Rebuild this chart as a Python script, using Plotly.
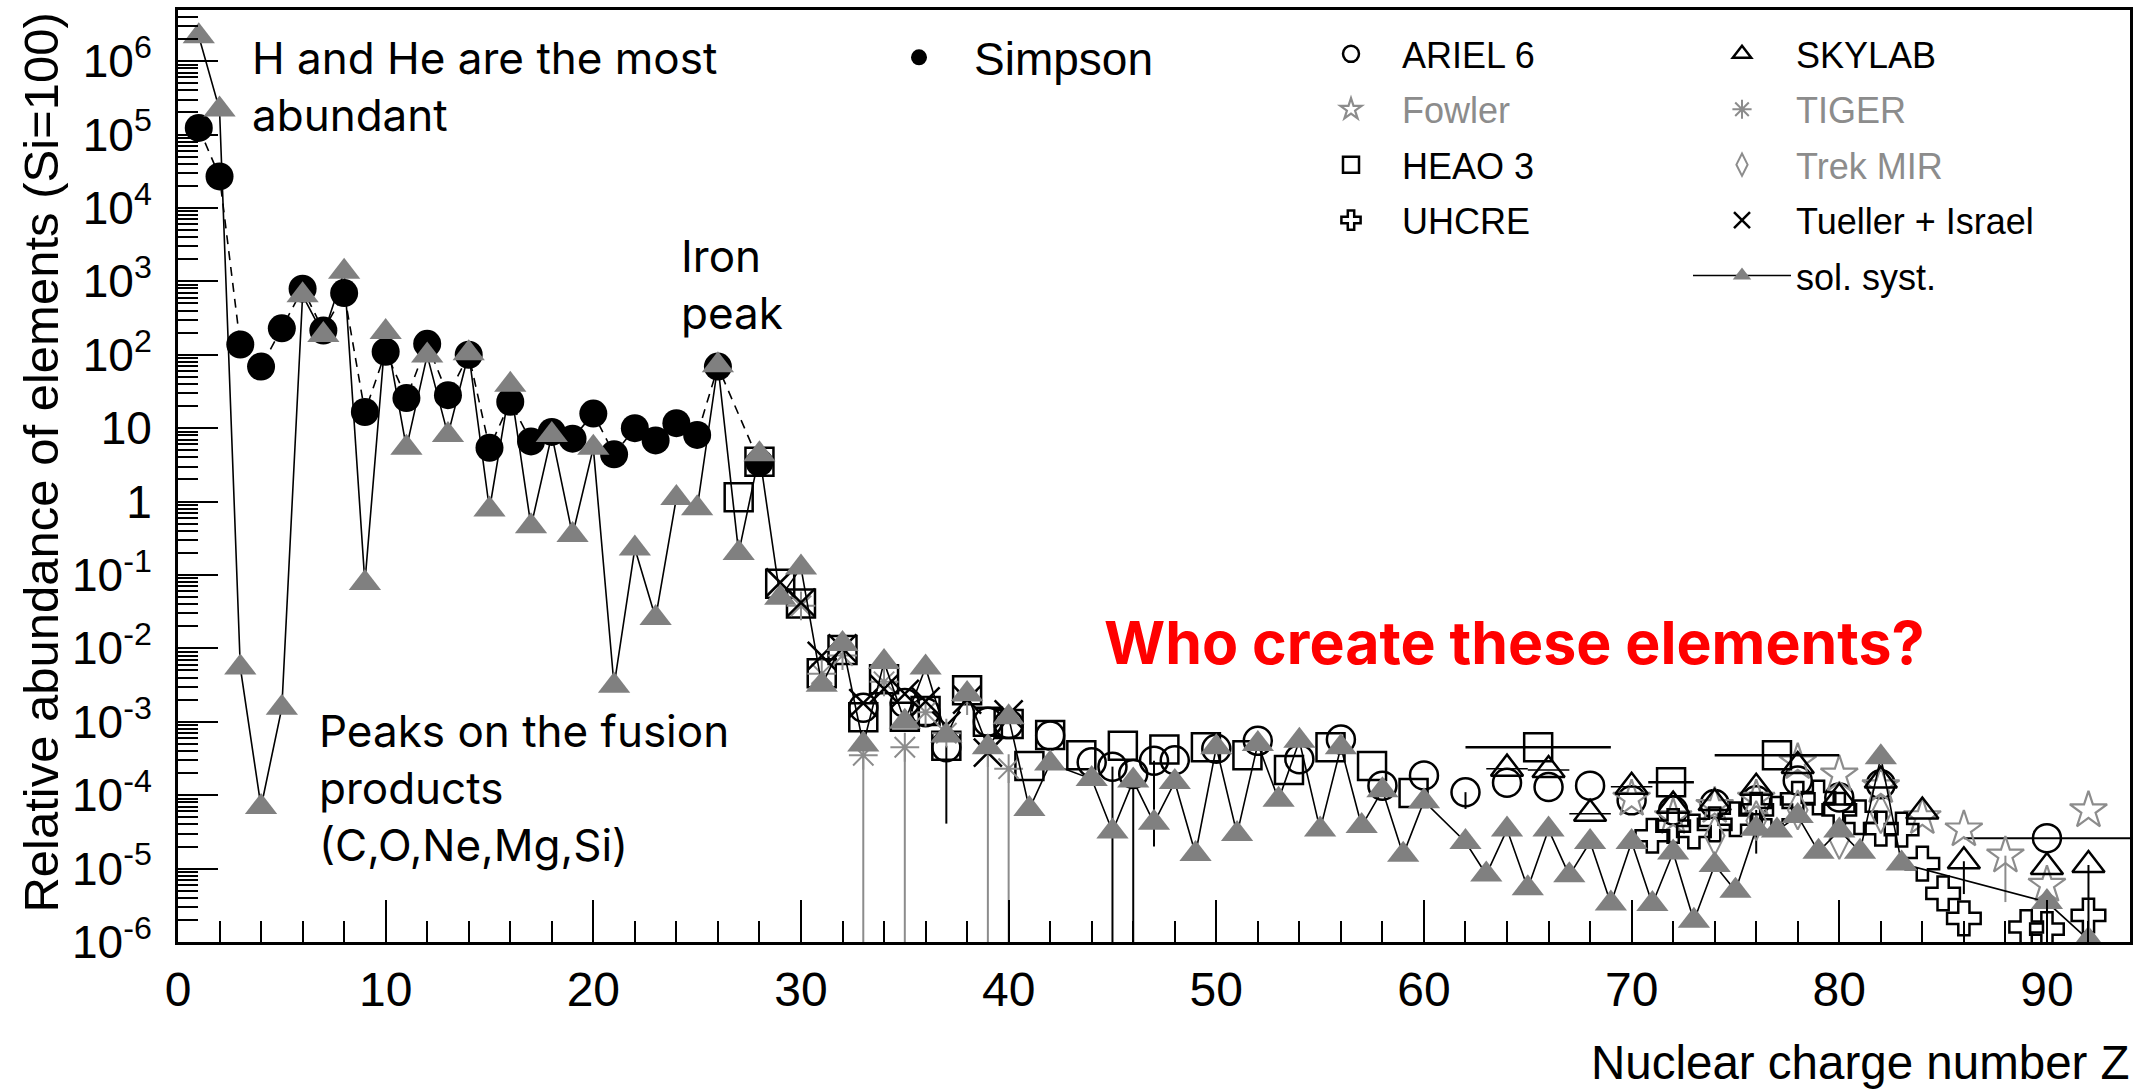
import plotly.graph_objects as go

# ---------------- data ----------------
simpson_z = [1, 2, 3, 4, 5, 6, 7, 8, 9, 10, 11, 12, 13, 14, 15, 16, 17, 18, 19, 20,
             21, 22, 23, 24, 25, 26, 28]
simpson_val = [1.23e5, 2.69e4, 138, 69, 229, 794, 214, 692, 16.6, 110, 25.7, 141, 28.2, 100,
               5.4, 22.9, 6.6, 8.9, 7.2, 15.8, 4.4, 10.0, 6.8, 11.7, 8.1, 69, 3.4]

solar_z = [1, 2, 3, 4, 5, 6, 7, 8, 9, 10, 11, 12, 13, 14, 15, 16, 17, 18, 19, 20,
           21, 22, 23, 24, 25, 26, 27, 28, 29, 30, 31, 32, 33, 34, 35, 36, 37, 38, 39, 40,
           41, 42, 44, 45, 46, 47, 48, 49, 50, 51, 52, 53, 54, 55, 56, 57, 58, 59, 60,
           62, 63, 64, 65, 66, 67, 68, 69, 70, 71, 72, 73, 74, 75, 76, 77, 78, 79, 80,
           81, 82, 83, 90, 92]
solar_val = [2.19e6, 2.19e5, 5.5e-3, 6.9e-5, 1.55e-3, 646, 186, 1349, 0.078, 204,
             5.4, 98, 8.1, 105, 0.78, 39, 0.46, 8.1, 0.35, 5.4,
             3.1e-3, 0.23, 0.026, 1.12, 0.81, 72, 0.20, 4.4, 0.049, 0.126,
             3.2e-3, 0.0115, 4.9e-4, 6.5e-3, 1.0e-3, 5.5e-3, 6.5e-4, 2.4e-3, 4.5e-4, 1.15e-3,
             6.5e-5, 2.7e-4, 1.66e-4, 3.2e-5, 1.58e-4, 4.2e-5, 1.51e-4, 1.58e-5, 4.5e-4, 2.95e-5,
             5.0e-4, 8.7e-5, 5.5e-4, 3.4e-5, 4.5e-4, 3.8e-5, 1.17e-4, 1.55e-5, 8.3e-5,
             2.3e-5, 8.3e-6, 3.4e-5, 5.4e-6, 3.4e-5, 8.1e-6, 2.3e-5, 3.35e-6, 2.3e-5, 3.3e-6,
             1.66e-5, 1.95e-6, 1.12e-5, 5.0e-6, 3.5e-5, 3.3e-5, 5.2e-5, 1.7e-5, 3.3e-5,
             1.7e-5, 3.3e-4, 1.17e-5, 3.5e-6, 1.07e-6]

heao_z = [27, 28, 29, 30, 31, 32, 33, 34, 35, 36, 37, 38, 39, 40, 41, 42,
          43.5, 45.5, 47.5, 49.5, 51.5, 53.5, 55.5, 57.5, 59.5, 65.5, 71.9, 77]
heao_val = [1.15, 3.5, 0.076, 0.041, 4.6e-3, 9.5e-3, 1.15e-3, 3.8e-3, 1.17e-3, 1.4e-3,
            4.7e-4, 2.7e-3, 1.0e-3, 9.3e-4, 2.5e-4, 6.6e-4,
            3.5e-4, 4.7e-4, 4.2e-4, 4.5e-4, 3.5e-4, 2.2e-4, 4.5e-4, 2.5e-4, 1.07e-4,
            4.5e-4, 1.5e-4, 3.5e-4]
heao_xerr = [0] * 25 + [3.5, 1.1, 3.0]
heao_low = [None] * 10 + [4.1e-5] + [None] * 17

ariel_z = [33, 35, 36, 37, 39, 40, 42, 44, 45, 46, 47, 48, 50, 52, 54, 56, 58, 60,
           62, 64, 66, 68, 70, 72, 74, 76, 78, 80, 82, 90]
ariel_val = [1.55e-3, 1.8e-3, 1.35e-3, 4.5e-4, 1.0e-3, 9.3e-4, 6.5e-4, 2.8e-4, 2.45e-4, 1.95e-4,
             2.95e-4, 3.0e-4, 4.3e-4, 5.5e-4, 3.1e-4, 5.75e-4, 1.35e-4, 1.86e-4,
             1.1e-4, 1.48e-4, 1.29e-4, 1.35e-4, 8.5e-5, 6.2e-5, 7.6e-5, 8.5e-5, 1.58e-4,
             9.3e-5, 1.41e-4, 2.6e-5]
ariel_xerr = [0] * 29 + [4.0]
ariel_low = [None] * 8 + [1e-7, 1e-7, 2.0e-5] + [None] * 7 + [6.5e-5] + [None] * 11

skylab_z = [64, 66, 68, 70, 72, 74, 76, 78, 80, 82, 84, 86, 90, 92]
skylab_val = [2.3e-4, 2.2e-4, 5.6e-5, 1.3e-4, 7.2e-5, 7.8e-5, 1.26e-4, 2.5e-4, 9.3e-5,
              1.58e-4, 6.0e-5, 1.26e-5, 1.05e-5, 1.12e-5]
skylab_xerr = [1, 1, 1, 1] + [0] * 10
skylab_low = [None] * 11 + [4.5e-6, None, 1e-7]

fowler_z = [70, 72, 74, 76, 78, 80, 82, 84, 86, 88, 90, 92]
fowler_val = [8.9e-5, 5.0e-5, 7.1e-5, 8.9e-5, 2.8e-4, 1.9e-4, 1.32e-4, 5.0e-5, 3.4e-5,
              1.5e-5, 6.0e-6, 6.2e-5]
fowler_low = [None] * 9 + [3.5e-6, None, None]

tiger_z = [30, 31, 32, 33, 34, 35, 36, 37, 38, 39, 40]
tiger_val = [0.038, 4.5e-3, 8.0e-3, 3.5e-4, 3.5e-3, 4.5e-4, 1.35e-3, 7.0e-4, 1.95e-3,
             3.8e-4, 2.3e-4]
tiger_low = [None, None, None, 1e-7, None, 1e-7, None, None, None, 1e-7, 1e-7]

trek_z = [74, 76, 78, 80, 82]
trek_val = [2.8e-5, 4.5e-5, 6.3e-5, 2.5e-5, 5.6e-5]

uhcre_z = [71, 72, 73, 74, 75, 76, 77, 78, 79, 80, 81, 82, 83, 84, 85, 86, 89, 90, 92]
uhcre_val = [2.8e-5, 3.8e-5, 3.2e-5, 4.0e-5, 4.7e-5, 6.3e-5, 5.6e-5, 8.9e-5, 9.3e-5,
             6.3e-5, 5.0e-5, 3.5e-5, 3.4e-5, 1.17e-5, 4.6e-6, 2.1e-6, 1.6e-6, 1.5e-6, 2.3e-6]
uhcre_low = [None] * 5 + [1.6e-5] + [None] * 13

tueller_z = [29, 30, 31, 32, 33, 34, 35, 36, 37, 38, 39, 40]
tueller_val = [0.079, 0.042, 7.9e-3, 0.010, 1.8e-3, 2.8e-3, 2.4e-3, 1.9e-3, 8.9e-4,
               2.0e-3, 3.8e-4, 1.26e-3]

ytick_vals = [1e-6, 1e-5, 1e-4, 1e-3, 1e-2, 1e-1, 1, 10, 1e2, 1e3, 1e4, 1e5, 1e6]
ytick_text = ["10<sup>-6</sup>", "10<sup>-5</sup>", "10<sup>-4</sup>", "10<sup>-3</sup>",
              "10<sup>-2</sup>", "10<sup>-1</sup>", "1", "10", "10<sup>2</sup>",
              "10<sup>3</sup>", "10<sup>4</sup>", "10<sup>5</sup>", "10<sup>6</sup>"]
xtick_vals = [0, 10, 20, 30, 40, 50, 60, 70, 80, 90]

# ---------------- helpers ----------------
W, H = 2150, 1091
ML, MR, MT, MB = 178, 20, 7, 149
PW, PH = W - ML - MR, H - MT - MB


def px(xp):
    return (xp - ML) / PW


def py(yp):
    return (H - MB - yp) / PH


def minus(vals, lows):
    return [(v - lo) if lo is not None else 0 for v, lo in zip(vals, lows)]


AXFONT = "Liberation Sans, Arial, Helvetica, sans-serif"
TXTFONT = "Inter, Open Sans, sans-serif"
GREY = "rgb(128,128,128)"
LGREY = "rgb(140,140,140)"
MS = 28

fig = go.Figure()

# Simpson dashed connecting line
fig.add_trace(go.Scatter(x=simpson_z, y=simpson_val, mode="lines", showlegend=False,
                         line=dict(color="black", width=1.6, dash="9px,7px"), hoverinfo="skip"))
fig.add_trace(go.Scatter(x=simpson_z, y=simpson_val, mode="markers", name="Simpson",
                         legend="legend", legendgroup="g0",
                         marker=dict(symbol="circle", size=MS, color="black")))

# column 1 legend
fig.add_trace(go.Scatter(x=ariel_z, y=ariel_val, mode="markers", name="ARIEL 6",
                         legend="legend2", legendgroup="g1",
                         marker=dict(symbol="circle-open", size=MS, color="black", line=dict(width=2.5)),
                         error_x=dict(type="data", array=ariel_xerr, width=0, color="black", thickness=2),
                         error_y=dict(type="data", array=[0] * len(ariel_z),
                                      arrayminus=minus(ariel_val, ariel_low), width=0,
                                      color="black", thickness=2)))
fig.add_trace(go.Scatter(x=fowler_z, y=fowler_val, mode="markers",
                         name="<span style='color:rgb(140,140,140)'>Fowler</span>",
                         legend="legend2", legendgroup="g2",
                         marker=dict(symbol="star-open", size=MS, color=LGREY, line=dict(width=2.2)),
                         error_y=dict(type="data", array=[0] * len(fowler_z),
                                      arrayminus=minus(fowler_val, fowler_low), width=0,
                                      color=LGREY, thickness=2)))
fig.add_trace(go.Scatter(x=heao_z, y=heao_val, mode="markers", name="HEAO 3",
                         legend="legend2", legendgroup="g3",
                         marker=dict(symbol="square-open", size=MS, color="black", line=dict(width=2.5)),
                         error_x=dict(type="data", array=heao_xerr, width=0, color="black", thickness=2.5),
                         error_y=dict(type="data", array=[0] * len(heao_z),
                                      arrayminus=minus(heao_val, heao_low), width=0,
                                      color="black", thickness=2)))
fig.add_trace(go.Scatter(x=uhcre_z, y=uhcre_val, mode="markers", name="UHCRE",
                         legend="legend2", legendgroup="g4",
                         marker=dict(symbol="cross-open", size=MS, color="black", line=dict(width=2.5)),
                         error_y=dict(type="data", array=[0] * len(uhcre_z),
                                      arrayminus=minus(uhcre_val, uhcre_low), width=0,
                                      color="black", thickness=2)))

# column 2 legend
fig.add_trace(go.Scatter(x=skylab_z, y=skylab_val, mode="markers", name="SKYLAB",
                         legend="legend3", legendgroup="g5",
                         marker=dict(symbol="triangle-up-open", size=MS, color="black", line=dict(width=2.5)),
                         error_x=dict(type="data", array=skylab_xerr, width=0, color="black", thickness=1.5),
                         error_y=dict(type="data", array=[0] * len(skylab_z),
                                      arrayminus=minus(skylab_val, skylab_low), width=0,
                                      color="black", thickness=2)))
fig.add_trace(go.Scatter(x=tiger_z, y=tiger_val, mode="markers",
                         name="<span style='color:rgb(140,140,140)'>TIGER</span>",
                         legend="legend3", legendgroup="g6",
                         marker=dict(symbol="asterisk-open", size=24, color=LGREY, line=dict(width=2, color=LGREY)),
                         error_y=dict(type="data", array=[0] * len(tiger_z),
                                      arrayminus=minus(tiger_val, tiger_low), width=0,
                                      color=LGREY, thickness=2)))
fig.add_trace(go.Scatter(x=trek_z, y=trek_val, mode="markers",
                         name="<span style='color:rgb(140,140,140)'>Trek MIR</span>",
                         legend="legend3", legendgroup="g7",
                         marker=dict(symbol="diamond-tall-open", size=MS, color=LGREY, line=dict(width=2))))
fig.add_trace(go.Scatter(x=tueller_z, y=tueller_val, mode="markers", name="Tueller + Israel",
                         legend="legend3", legendgroup="g8",
                         marker=dict(symbol="x-thin-open", size=MS, color="black", line=dict(width=2.5, color="black"))))
fig.add_trace(go.Scatter(x=solar_z, y=solar_val, mode="lines+markers", name="sol. syst.",
                         legend="legend3", legendgroup="g9",
                         line=dict(color="black", width=1.6),
                         marker=dict(symbol="triangle-up", size=MS, color=GREY)))

leg_common = dict(xanchor="left", yanchor="top", bgcolor="rgba(0,0,0,0)", borderwidth=0,
                  tracegroupgap=5.6, itemclick=False, itemdoubleclick=False)

fig.update_layout(
    width=W, height=H,
    margin=dict(l=ML, r=MR, t=MT, b=MB),
    paper_bgcolor="white", plot_bgcolor="white",
    showlegend=True,
    legend=dict(x=px(864), y=py(18), font=dict(family=AXFONT, size=46, color="black"),
                itemwidth=100, **leg_common),
    legend2=dict(x=px(1300), y=py(21), font=dict(family=AXFONT, size=36, color="black"),
                 itemwidth=92, **leg_common),
    legend3=dict(x=px(1688), y=py(21), font=dict(family=AXFONT, size=36, color="black"),
                 itemwidth=98, **leg_common),
)

fig.update_xaxes(range=[0, 94], tickmode="array", tickvals=xtick_vals,
                 ticks="inside", ticklen=42, tickwidth=2, tickcolor="black",
                 showline=True, linewidth=3, linecolor="black", mirror=True,
                 showgrid=False, zeroline=False, ticklabelstandoff=3,
                 tickfont=dict(family=AXFONT, size=48, color="black"),
                 minor=dict(dtick=2, tick0=0, ticks="inside", ticklen=21, tickwidth=2,
                            tickcolor="black", showgrid=False))

yminor = [k * 10.0 ** n for n in range(-6, 7) for k in range(2, 10) if k * 10.0 ** n < 10 ** 6.7]
fig.update_yaxes(type="log", range=[-6, 6.697], tickmode="array", tickvals=ytick_vals,
                 ticktext=ytick_text,
                 ticks="inside", ticklen=40, tickwidth=2, tickcolor="black",
                 showline=True, linewidth=3, linecolor="black", mirror=True,
                 showgrid=False, zeroline=False, ticklabelstandoff=14,
                 tickfont=dict(family=AXFONT, size=46, color="black"),
                 minor=dict(tickmode="array", tickvals=yminor, ticks="inside", ticklen=20,
                            tickwidth=2, tickcolor="black", showgrid=False))

# axis titles
fig.add_annotation(text="Nuclear charge number Z", xref="paper", yref="paper",
                   x=px(2132), y=py(1063), xanchor="right", yanchor="middle", showarrow=False,
                   font=dict(family=AXFONT, size=47.5, color="black"))
fig.add_annotation(text="Relative abundance of elements (Si=100)", xref="paper", yref="paper",
                   x=px(41), y=py(461), xanchor="center", yanchor="middle", textangle=-90,
                   showarrow=False, font=dict(family=AXFONT, size=49, color="black"))

# explanatory texts
fig.add_annotation(text="H and He are the most<br>abundant", xref="paper", yref="paper",
                   x=px(250), y=py(84), xanchor="left", yanchor="middle", align="left",
                   showarrow=False, font=dict(family=TXTFONT, size=44, color="black"))
fig.add_annotation(text="Iron<br>peak", xref="paper", yref="paper",
                   x=px(679), y=py(282), xanchor="left", yanchor="middle", align="left",
                   showarrow=False, font=dict(family=TXTFONT, size=44, color="black"))
fig.add_annotation(text="Peaks on the fusion<br>products<br>(C,O,Ne,Mg,Si)", xref="paper", yref="paper",
                   x=px(317), y=py(788), xanchor="left", yanchor="middle", align="left",
                   showarrow=False, font=dict(family=TXTFONT, size=44, color="black"))
fig.add_annotation(text="<b>Who create these elements?</b>", xref="paper", yref="paper",
                   x=px(1102), y=py(642), xanchor="left", yanchor="middle", align="left",
                   showarrow=False, font=dict(family=TXTFONT, size=59, color="red"))

fig.write_html("out.html")
